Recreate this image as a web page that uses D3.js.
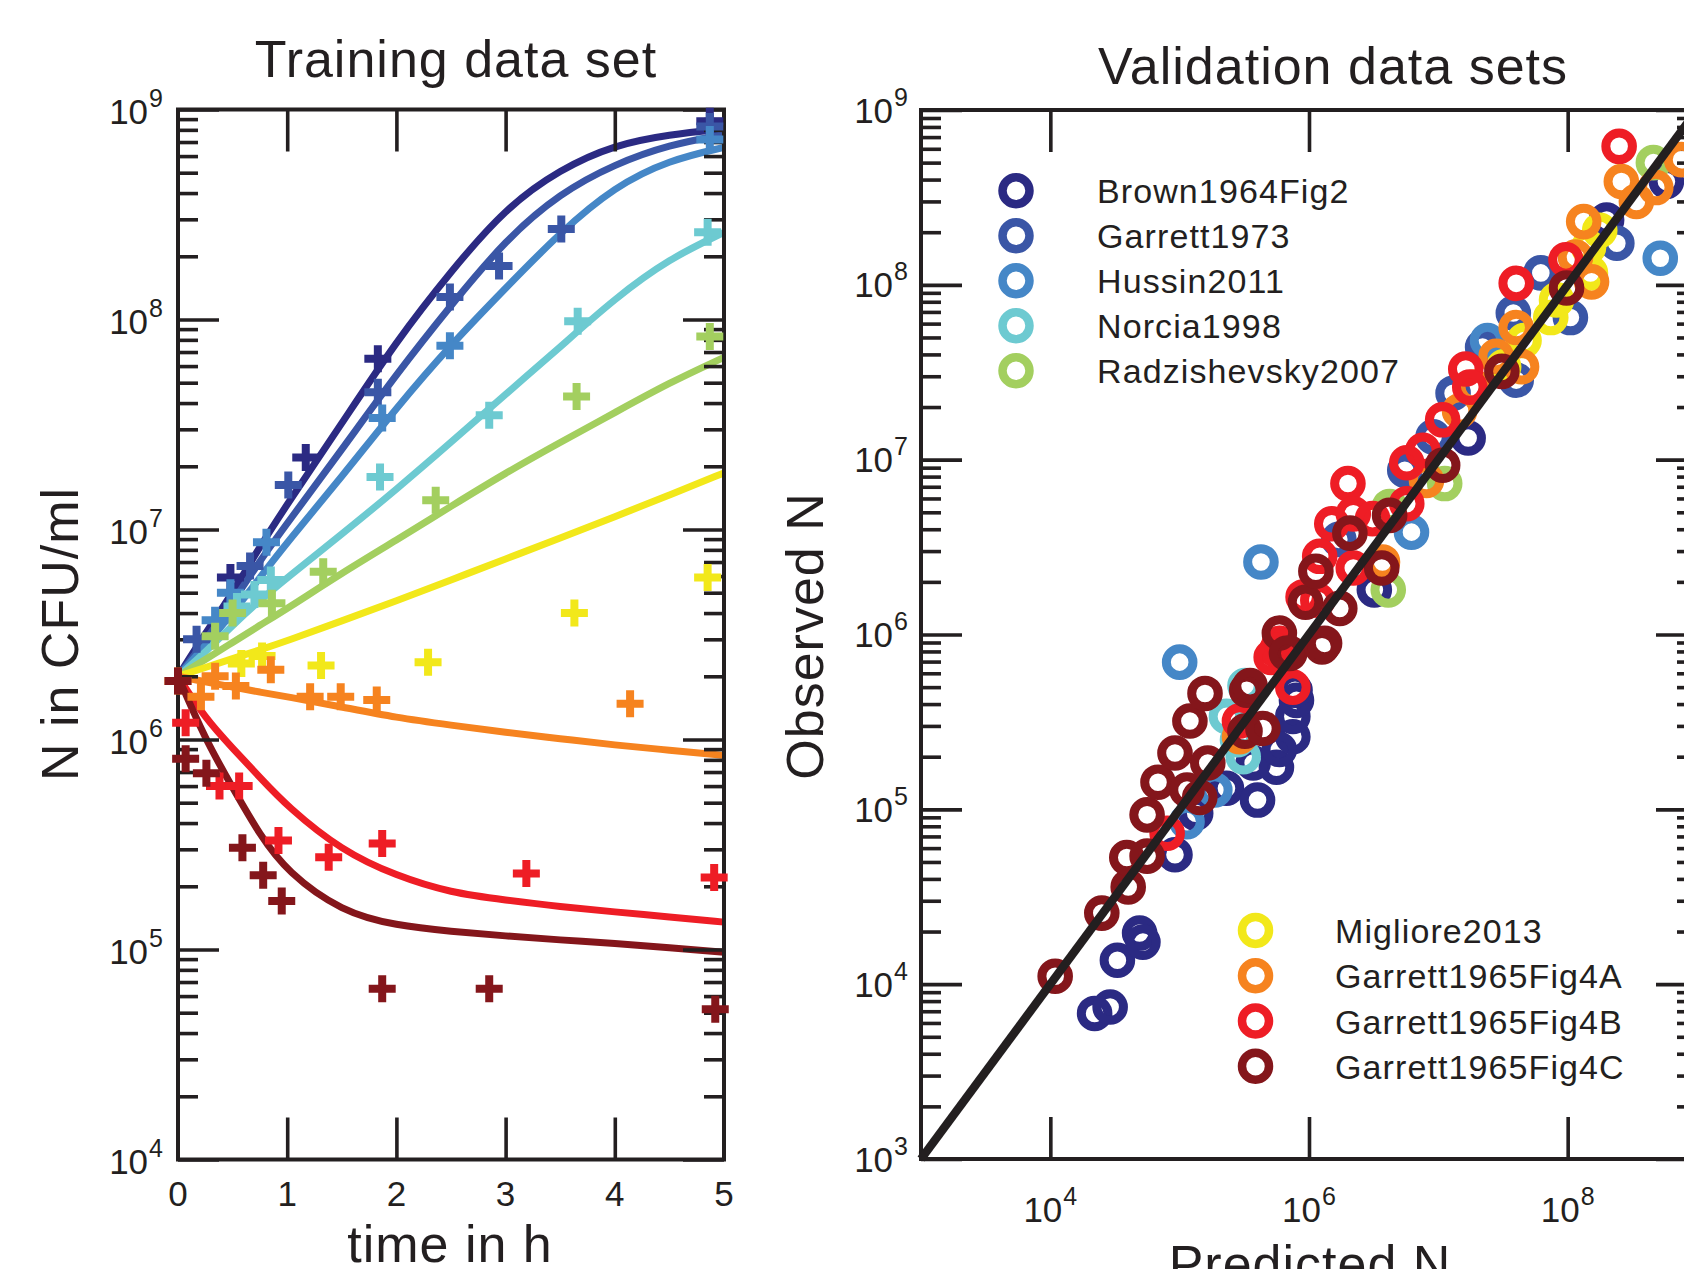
<!DOCTYPE html>
<html>
<head>
<meta charset="utf-8">
<script src="https://cdn.jsdelivr.net/npm/d3@7"></script>
<style>
  body { margin: 0; background: #fff; }
  text { font-family: "Liberation Sans", Arial, Helvetica, sans-serif; fill: #231f20; }
</style>
</head>
<body>
<script>
// ---- left panel: model fits (time in h, N in CFU/ml) ----
var fitTimes = [0, 0.25, 0.5, 0.75, 1, 1.5, 2, 2.5, 3, 3.5, 4, 4.5, 5];
var fit1 = [2.0e6, 3.2e6, 5.0e6, 8.3e6, 1.32e7, 3.2e7, 7.9e7, 1.7e8, 3.4e8, 5.2e8, 6.8e8, 7.6e8, 8.1e8];
var fit2 = [2.0e6, 2.95e6, 4.5e6, 7.1e6, 1.07e7, 2.4e7, 5.5e7, 1.17e8, 2.4e8, 4.0e8, 5.5e8, 6.8e8, 7.6e8];
var fit3 = [2.0e6, 2.8e6, 4.0e6, 5.9e6, 8.7e6, 1.78e7, 3.8e7, 7.6e7, 1.41e8, 2.6e8, 4.3e8, 5.75e8, 6.6e8];
var fit4 = [2.0e6, 2.6e6, 3.5e6, 4.6e6, 5.9e6, 9.5e6, 1.55e7, 2.6e7, 4.4e7, 7.4e7, 1.26e8, 1.95e8, 2.6e8];
var fit5 = [2.0e6, 2.4e6, 2.9e6, 3.5e6, 4.2e6, 6.2e6, 8.9e6, 1.29e7, 1.86e7, 2.6e7, 3.6e7, 5.0e7, 6.6e7];
var fit6 = [2.0e6, 2.2e6, 2.43e6, 2.67e6, 2.95e6, 3.67e6, 4.57e6, 5.75e6, 7.24e6, 9.1e6, 1.15e7, 1.46e7, 1.86e7];
var fit7 = [2.0e6, 1.88e6, 1.78e6, 1.68e6, 1.6e6, 1.43e6, 1.27e6, 1.17e6, 1.08e6, 1.01e6, 9.4e5, 8.9e5, 8.4e5];
var fit8 = [2.0e6, 1.26e6, 9.1e5, 6.6e5, 4.8e5, 2.95e5, 2.24e5, 1.86e5, 1.72e5, 1.6e5, 1.51e5, 1.43e5, 1.35e5];
var fit9 = [2.0e6, 1.0e6, 5.9e5, 3.5e5, 2.34e5, 1.51e5, 1.3e5, 1.22e5, 1.16e5, 1.11e5, 1.07e5, 1.02e5, 9.7e4];

// ---- left panel: measured points [t, N] ----
var obs1 = [[0.48, 5.9e6], [1.17, 2.2e7], [1.83, 6.5e7], [4.87, 8.8e8]];
var obs2 = [[0.17, 3.0e6], [0.66, 6.7e6], [1.01, 1.63e7], [1.83, 4.5e7], [2.49, 1.28e8], [2.94, 1.8e8], [3.51, 2.7e8], [4.87, 8.3e8]];
var obs3 = [[0.34, 3.7e6], [0.48, 5.0e6], [0.81, 8.7e6], [1.87, 3.4e7], [2.49, 7.5e7], [4.87, 7.2e8]];
var obs4 = [[0.54, 4.3e6], [0.70, 4.9e6], [0.85, 5.75e6], [1.85, 1.78e7], [2.85, 3.5e7], [3.66, 9.8e7], [4.85, 2.6e8]];
var obs5 = [[0.34, 3.1e6], [0.50, 4.0e6], [0.86, 4.45e6], [1.33, 6.3e6], [2.36, 1.38e7], [3.65, 4.3e7], [4.87, 8.3e7]];
var obs6 = [[0.58, 2.3e6], [0.77, 2.5e6], [1.31, 2.25e6], [2.29, 2.33e6], [3.63, 4.0e6], [4.85, 5.9e6]];
var obs7 = [[0, 1.9e6], [0.21, 1.6e6], [0.34, 2.0e6], [0.53, 1.8e6], [0.85, 2.15e6], [1.21, 1.6e6], [1.49, 1.6e6], [1.82, 1.54e6], [4.14, 1.48e6]];
var obs8 = [[0.07, 1.2e6], [0.38, 6.0e5], [0.56, 6.0e5], [0.92, 3.3e5], [1.38, 2.75e5], [1.87, 3.2e5], [3.19, 2.3e5], [4.91, 2.2e5]];
var obs9 = [[0, 1.9e6], [0.07, 8.1e5], [0.26, 6.9e5], [0.59, 3.05e5], [0.78, 2.26e5], [0.95, 1.7e5], [1.87, 6.5e4], [2.85, 6.5e4], [4.92, 5.2e4]];

// ---- right panel: [predicted N, observed N] ----
var brown1964Fig2 = [[2.2e4, 6.8e3], [2.9e4, 7.4e3], [3.3e4, 1.37e4], [4.9e4, 1.96e4], [5.2e4, 1.74e4], [9.2e4, 5.5e4], [1.33e5, 9.5e4], [2.3e5, 1.32e5], [4.0e5, 1.13e5], [3.7e5, 1.84e5], [5.6e5, 1.74e5], [7.5e5, 2.6e5], [7.5e5, 3.4e5], [8.0e5, 4.2e5], [7.8e5, 4.8e5], [5.9e5, 2.2e5], [3.2e6, 1.8e6], [1.7e7, 1.33e7], [2.0e8, 2.35e8], [5.8e8, 3.9e8]];
var garrett1973 = [[1.3e7, 2.4e7], [9.1e6, 1.35e7], [2.2e7, 4.4e7], [3.8e7, 6.9e7], [4.0e7, 2.85e7], [6.2e7, 1.17e8], [1.05e8, 6.5e7], [2.4e8, 1.73e8], [1.7e6, 3.5e6], [5.5e6, 8.7e6]];
var hussin2011 = [[1.0e5, 6.95e5], [4.25e5, 2.6e6], [1.14e5, 8.5e4], [6.2e6, 3.85e6], [5.2e8, 1.42e8], [1.87e5, 1.29e5], [2.4e7, 4.8e7]];
var norcia1998 = [[3.2e5, 5.1e5], [3.1e5, 2.0e5], [2.3e5, 3.4e5], [2.8e5, 2.5e5]];
var radzishevsky2007 = [[4.1e6, 1.8e6], [1.12e7, 7.3e6], [4.2e6, 5.4e6], [4.6e8, 5.0e8]];
var migliore2013 = [[1.45e8, 1.64e8], [1.5e8, 1.17e8], [7.4e7, 6.5e7], [8.2e7, 8.2e7], [4.6e7, 4.8e7], [3.2e7, 3.4e7], [1.77e8, 2.05e8]];
var garrett1965Fig4A = [[2.6e8, 3.9e8], [3.4e8, 3.0e8], [4.8e8, 3.6e8], [7.6e8, 5.2e8], [1.33e8, 2.3e8], [1.15e8, 1.44e8], [1.53e8, 1.04e8], [4.0e7, 5.7e7], [4.4e7, 3.4e7], [1.46e7, 1.9e7], [8.1e6, 7.6e6], [3.7e6, 2.6e6], [2.9e5, 2.6e5], [1.9e7, 2.6e7], [2.8e7, 3.9e7]];
var garrett1965Fig4B = [[2.5e8, 6.2e8], [4.0e7, 1.02e8], [9.7e7, 1.39e8], [1.63e7, 3.3e7], [1.75e7, 2.6e7], [1.08e7, 1.69e7], [7.6e6, 1.13e7], [5.7e6, 9.6e6], [5.7e6, 5.6e6], [2.0e6, 7.3e6], [1.5e6, 4.3e6], [1.21e6, 2.8e6], [2.2e6, 2.4e6], [9.0e5, 1.64e6], [5.9e5, 8.9e5], [5.6e5, 8.1e5], [7.5e5, 5.0e5], [2.9e5, 3.2e5], [8.0e4, 7.3e4], [2.2e6, 4.9e6], [3.1e6, 4.6e6], [1.17e6, 1.57e6], [5.1e5, 7.4e5]];
var garrett1965Fig4C = [[1.09e4, 1.11e4], [2.5e4, 2.55e4], [4.0e4, 3.6e4], [3.9e4, 5.3e4], [5.6e4, 5.4e4], [5.6e4, 9.3e4], [6.8e4, 1.43e5], [9.2e4, 2.1e5], [1.14e5, 1.29e5], [1.2e5, 3.2e5], [1.57e5, 4.6e5], [1.65e5, 1.84e5], [1.43e5, 1.17e5], [3.2e5, 2.8e5], [4.4e5, 2.9e5], [3.3e5, 4.8e5], [7.1e5, 7.8e5], [1.26e6, 8.5e5], [3.5e5, 5.1e5], [5.9e5, 1.02e6], [6.7e5, 7.8e5], [9.4e5, 1.53e6], [1.73e6, 1.41e6], [1.32e6, 8.9e5], [1.13e6, 2.3e6], [2.07e6, 3.8e6], [4.2e6, 4.8e6], [3.65e6, 2.4e6], [1.08e7, 9.3e6], [9.8e7, 9.6e7], [3.1e7, 3.2e7]];

var legendTop = ["Brown1964Fig2", "Garrett1973", "Hussin2011", "Norcia1998", "Radzishevsky2007"];
var legendBottom = ["Migliore2013", "Garrett1965Fig4A", "Garrett1965Fig4B", "Garrett1965Fig4C"];
var colors = ["#2b2a83", "#3a56a6", "#4587c7", "#6dcad1", "#a3cf5f", "#f2e81a", "#f6831f", "#ee1d25", "#84161b"];

var leftDecades = [1e4, 1e5, 1e6, 1e7, 1e8, 1e9];
var rightDecades = [1e3, 1e4, 1e5, 1e6, 1e7, 1e8, 1e9];
var timeTicks = [0, 1, 2, 3, 4, 5];
var predTicks = [1e4, 1e6, 1e8];

var ink = "#231f20";
var svg = d3.select("body").append("svg")
            .attr("width", 1684)
            .attr("height", 1269);

function minors(decades) {
  var m = [];
  decades.slice(0, -1).forEach(function(d){
    for (var k = 2; k <= 9; k++) m.push(d * k);
  });
  return m;
}

// y axis ticks inward on both sides
function yTicks(g, y, x0, x1, decades) {
  g.append("g").attr("transform", "translate(" + x0 + ",0)")
   .call(d3.axisLeft(y).tickValues(decades).tickSize(-41).tickSizeOuter(0).tickFormat(""));
  g.append("g").attr("transform", "translate(" + x0 + ",0)")
   .call(d3.axisLeft(y).tickValues(minors(decades)).tickSize(-20).tickSizeOuter(0).tickFormat(""));
  g.append("g").attr("transform", "translate(" + x1 + ",0)")
   .call(d3.axisRight(y).tickValues(decades).tickSize(-41).tickSizeOuter(0).tickFormat(""));
  g.append("g").attr("transform", "translate(" + x1 + ",0)")
   .call(d3.axisRight(y).tickValues(minors(decades)).tickSize(-20).tickSizeOuter(0).tickFormat(""));
}
function xTicks(g, x, y0, y1, vals) {
  g.append("g").attr("transform", "translate(0," + y1 + ")")
   .call(d3.axisBottom(x).tickValues(vals).tickSize(-42).tickSizeOuter(0).tickFormat(""));
  g.append("g").attr("transform", "translate(0," + y0 + ")")
   .call(d3.axisTop(x).tickValues(vals).tickSize(-42).tickSizeOuter(0).tickFormat(""));
}
function styleAxes(g) {
  g.selectAll(".domain").remove();
  g.selectAll(".tick line").attr("stroke", ink).attr("stroke-width", 3.6);
}
function powLabel(g, x, y, exp, anchor) {
  var t = g.append("text").attr("x", x).attr("y", y)
           .attr("text-anchor", anchor).attr("font-size", 35);
  t.append("tspan").text("10");
  t.append("tspan").attr("dy", -17).attr("dx", 1).attr("font-size", 25).text(exp);
}

// ================= left panel =================
var xL = d3.scaleLinear().domain([0, 5]).range([178, 724]);
var yL = d3.scaleLog().domain([1e4, 1e9]).range([1159.5, 109.5]);
var gL = svg.append("g");

var fits = [fit1, fit2, fit3, fit4, fit5, fit6, fit7, fit8, fit9];
var obsAll = [obs1, obs2, obs3, obs4, obs5, obs6, obs7, obs8, obs9];

var line = d3.line()
             .x(function(d){ return xL(d[0]); })
             .y(function(d){ return yL(d[1]); })
             .curve(d3.curveBasis);

fits.forEach(function(f, i){
  gL.append("path")
    .datum(fitTimes.map(function(t, j){ return [t, f[j]]; }))
    .attr("d", line)
    .attr("fill", "none")
    .attr("stroke", colors[i])
    .attr("stroke-width", 7)
    .attr("stroke-linejoin", "round");
});

var axL = gL.append("g");
yTicks(axL, yL, 178, 724, leftDecades);
xTicks(axL, xL, 109.5, 1159.5, timeTicks.slice(1, 5));
styleAxes(axL);
gL.append("rect").attr("x", 178).attr("y", 109.5).attr("width", 546).attr("height", 1050)
  .attr("fill", "none").attr("stroke", ink).attr("stroke-width", 4);

obsAll.forEach(function(o, i){
  gL.selectAll(null).data(o).enter().append("path")
    .attr("transform", function(d){ return "translate(" + xL(d[0]) + "," + yL(d[1]) + ")"; })
    .attr("d", "M-13.5,0H13.5M0,-13.5V13.5")
    .attr("stroke", colors[i])
    .attr("stroke-width", 8)
    .attr("fill", "none");
});

leftDecades.forEach(function(d){
  powLabel(gL, 163, yL(d) + 14, Math.round(Math.log10(d)), "end");
});
timeTicks.forEach(function(t){
  gL.append("text").attr("x", xL(t)).attr("y", 1206)
    .attr("text-anchor", "middle").attr("font-size", 35).text(t);
});
gL.append("text").attr("x", 456).attr("y", 77).attr("text-anchor", "middle")
  .attr("font-size", 52).attr("letter-spacing", 1).text("Training data set");
gL.append("text").attr("x", 450).attr("y", 1262).attr("text-anchor", "middle")
  .attr("font-size", 52).attr("letter-spacing", 1).text("time in h");
gL.append("text").attr("transform", "translate(78,634) rotate(-90)")
  .attr("text-anchor", "middle").attr("font-size", 52).attr("letter-spacing", 1).text("N in CFU/ml");

// ================= right panel =================
var xR = d3.scaleLog().domain([1e3, 1e9]).range([921, 1697]);
var yR = d3.scaleLog().domain([1e3, 1e9]).range([1159, 110]);
var gR = svg.append("g");

var axR = gR.append("g");
yTicks(axR, yR, 921, 1697, rightDecades);
xTicks(axR, xR, 110, 1159, predTicks);
styleAxes(axR);
gR.append("rect").attr("x", 921).attr("y", 110).attr("width", 776).attr("height", 1049)
  .attr("fill", "none").attr("stroke", ink).attr("stroke-width", 4);

var sets = [brown1964Fig2, garrett1973, hussin2011, norcia1998, radzishevsky2007,
            migliore2013, garrett1965Fig4A, garrett1965Fig4B, garrett1965Fig4C];
sets.forEach(function(s, i){
  gR.selectAll(null).data(s).enter().append("circle")
    .attr("cx", function(d){ return xR(d[0]); })
    .attr("cy", function(d){ return yR(d[1]); })
    .attr("r", 13.3)
    .attr("fill", "none")
    .attr("stroke", colors[i])
    .attr("stroke-width", 9);
});

gR.append("path")
  .datum([[1e3, 1e3], [1e9, 1e9]])
  .attr("d", d3.line().x(function(d){ return xR(d[0]); }).y(function(d){ return yR(d[1]); }))
  .attr("stroke", ink).attr("stroke-width", 8.5);

// legends
legendTop.forEach(function(name, i){
  var yy = 190.7 + i * 45;
  gR.append("circle").attr("cx", 1016).attr("cy", yy).attr("r", 13.5)
    .attr("fill", "none").attr("stroke", colors[i]).attr("stroke-width", 8.5);
  gR.append("text").attr("x", 1097).attr("y", yy + 12.5).attr("font-size", 34)
    .attr("letter-spacing", 1.1).text(name);
});
legendBottom.forEach(function(name, i){
  var yy = 930.4 + i * 45.3;
  gR.append("circle").attr("cx", 1255.5).attr("cy", yy).attr("r", 13.5)
    .attr("fill", "none").attr("stroke", colors[i + 5]).attr("stroke-width", 8.5);
  gR.append("text").attr("x", 1335).attr("y", yy + 12.5).attr("font-size", 34)
    .attr("letter-spacing", 1.1).text(name);
});

rightDecades.forEach(function(d){
  powLabel(gR, 908, yR(d) + 12.5, Math.round(Math.log10(d)), "end");
});
predTicks.forEach(function(d){
  powLabel(gR, xR(d), 1222, Math.round(Math.log10(d)), "middle");
});
gR.append("text").attr("x", 1333).attr("y", 84).attr("text-anchor", "middle")
  .attr("font-size", 52).attr("letter-spacing", 1).text("Validation data sets");
gR.append("text").attr("x", 1310).attr("y", 1282).attr("text-anchor", "middle")
  .attr("font-size", 52).attr("letter-spacing", 1).text("Predicted N");
gR.append("text").attr("transform", "translate(823,636) rotate(-90)")
  .attr("text-anchor", "middle").attr("font-size", 52).attr("letter-spacing", 1).text("Observed N");
</script>
</body>
</html>
